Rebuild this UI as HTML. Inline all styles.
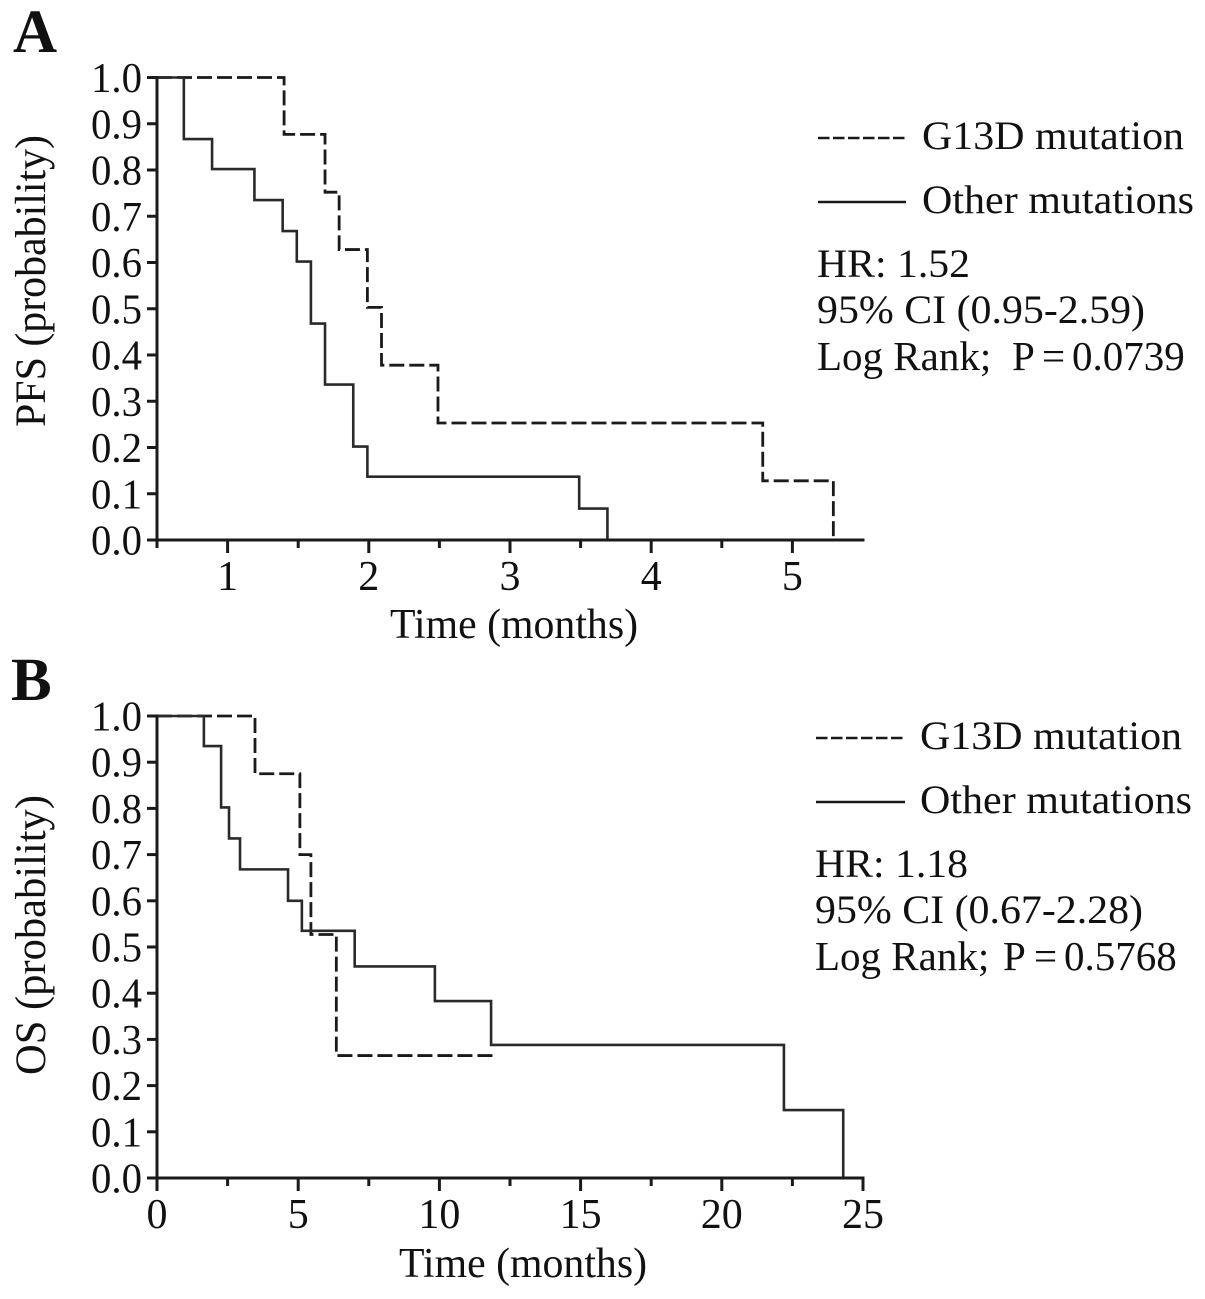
<!DOCTYPE html>
<html lang="en">
<head>
<meta charset="utf-8">
<title>Kaplan-Meier curves</title>
<style>
html,body{margin:0;padding:0;background:#fff;width:1205px;height:1299px;overflow:hidden}
svg{display:block}
text{font-family:"Liberation Serif",serif;fill:#111}
</style>
</head>
<body>
<svg id="fig" xmlns="http://www.w3.org/2000/svg" width="1205" height="1299" viewBox="0 0 1205 1299">
  <rect width="1205" height="1299" fill="#fff"/>
  <text x="13" y="52" font-size="61" font-weight="bold">A</text>
  <text x="11" y="700" font-size="61" font-weight="bold">B</text>

  <line x1="818" y1="138" x2="906" y2="138" stroke="#1a1a1a" stroke-width="2.5" stroke-dasharray="11.5 3.5"/>
  <text x="922" y="149" font-size="40" textLength="262" lengthAdjust="spacingAndGlyphs">G13D mutation</text>
  <line x1="818" y1="202" x2="906" y2="202" stroke="#1a1a1a" stroke-width="2.5"/>
  <text x="922" y="213" font-size="40" textLength="272" lengthAdjust="spacingAndGlyphs">Other mutations</text>
  <text x="817" y="277" font-size="40" textLength="153" lengthAdjust="spacingAndGlyphs">HR: 1.52</text>
  <text x="817" y="323" font-size="40" textLength="328" lengthAdjust="spacingAndGlyphs">95% CI (0.95-2.59)</text>
  <text y="370" font-size="41"><tspan x="817">Log Rank;</tspan> <tspan x="1012">P</tspan> <tspan x="1042">=</tspan><tspan x="1072">0.0739</tspan></text>

  <line x1="816" y1="738" x2="905" y2="738" stroke="#1a1a1a" stroke-width="2.5" stroke-dasharray="11.5 3.5"/>
  <text x="920" y="749" font-size="40" textLength="262" lengthAdjust="spacingAndGlyphs">G13D mutation</text>
  <line x1="816" y1="802" x2="905" y2="802" stroke="#1a1a1a" stroke-width="2.5"/>
  <text x="920" y="813" font-size="40" textLength="272" lengthAdjust="spacingAndGlyphs">Other mutations</text>
  <text x="815" y="877" font-size="40" textLength="153" lengthAdjust="spacingAndGlyphs">HR: 1.18</text>
  <text x="815" y="923" font-size="40" textLength="328" lengthAdjust="spacingAndGlyphs">95% CI (0.67-2.28)</text>
  <text y="970" font-size="41"><tspan x="815">Log Rank;</tspan> <tspan x="1003">P</tspan> <tspan x="1034">=</tspan><tspan x="1064">0.5768</tspan></text>

  <text x="390" y="638" font-size="42" textLength="248" lengthAdjust="spacingAndGlyphs">Time (months)</text>
  <text x="399" y="1277" font-size="42" textLength="248" lengthAdjust="spacingAndGlyphs">Time (months)</text>
  <text transform="translate(45,427) rotate(-90)" font-size="43" textLength="292" lengthAdjust="spacingAndGlyphs">PFS (probability)</text>
  <text transform="translate(45,1075) rotate(-90)" font-size="43" textLength="280" lengthAdjust="spacingAndGlyphs">OS (probability)</text>
</svg>
<script>
// Shared y-axis tick labels
const yTickLabels = ['0.0','0.1','0.2','0.3','0.4','0.5','0.6','0.7','0.8','0.9','1.0'];

// Panel A: progression-free survival
const aXMajorTicks = [1, 2, 3, 4, 5];
const aXMinorTicks = [0.5, 1.5, 2.5, 3.5, 4.5];
const aG13dTimes = [1.4, 1.69, 1.79, 1.99, 2.09, 2.49, 4.79, 5.29];
const aG13dProb = [0.877, 0.752, 0.628, 0.503, 0.378, 0.253, 0.128, 0];
const aOtherTimes = [0.69, 0.89, 1.19, 1.39, 1.49, 1.59, 1.69, 1.89, 1.99, 3.49, 3.69];
const aOtherProb = [0.867, 0.802, 0.735, 0.668, 0.602, 0.468, 0.336, 0.202, 0.137, 0.068, 0];

// Panel B: overall survival
const bXMajorTicks = [0, 5, 10, 15, 20, 25];
const bXMinorTicks = [2.5, 7.5, 12.5, 17.5, 22.5];
const bG13dTimes = [3.47, 5.06, 5.45, 6.35];
const bG13dProb = [0.875, 0.70, 0.527, 0.265];
const bG13dEnd = 12.03;
const bOtherTimes = [1.66, 2.27, 2.55, 2.94, 4.64, 5.13, 7.0, 9.84, 11.83, 22.2, 24.3];
const bOtherProb = [0.935, 0.802, 0.735, 0.668, 0.60, 0.535, 0.458, 0.383, 0.288, 0.147, 0];

const NS = 'http://www.w3.org/2000/svg';
const svg = document.getElementById('fig');
const INK = '#1a1a1a';

function add(tag, attrs) {
  const el = document.createElementNS(NS, tag);
  for (const k in attrs) el.setAttribute(k, attrs[k]);
  svg.appendChild(el);
  return el;
}

function stepPath(times, probs, xScale, yScale, endTime) {
  let d = 'M' + xScale(xScale.domainStart) + ' ' + yScale(1);
  let prev = 1;
  times.forEach(function (t, i) {
    d += 'L' + xScale(t) + ' ' + yScale(prev);
    d += 'L' + xScale(t) + ' ' + yScale(probs[i]);
    prev = probs[i];
  });
  if (endTime !== undefined) d += 'L' + xScale(endTime) + ' ' + yScale(prev);
  return d;
}

function drawPanel(p) {
  const xScale = function (v) { return p.x0 + (v - p.d0) / (p.d1 - p.d0) * (p.x1 - p.x0); };
  xScale.domainStart = p.d0;
  const yScale = function (v) { return p.y0 + (1 - v) * (p.y1 - p.y0); };
  const lbl = p.id;

  // y ticks and labels
  yTickLabels.forEach(function (s) {
    const v = parseFloat(s);
    const tick = add('line', {x1: p.x0 - 10, x2: p.x0, y1: yScale(v), y2: yScale(v), stroke: INK, 'stroke-width': 3});
    
    
    const t = add('text', {x: p.x0 - 66, y: yScale(v) + 14.5, 'font-size': 42, textLength: 51, lengthAdjust: 'spacingAndGlyphs'});
    t.textContent = s;
    
    
  });

  // x ticks and labels
  p.major.forEach(function (v) {
    const tick = add('line', {x1: xScale(v), x2: xScale(v), y1: p.y1, y2: p.y1 + 13, stroke: INK, 'stroke-width': 3});
    
    
    const t = add('text', {x: xScale(v), y: p.labelY, 'font-size': 42, 'text-anchor': 'middle'});
    t.textContent = String(v);
    
    
  });
  p.minor.forEach(function (v) {
    const tick = add('line', {x1: xScale(v), x2: xScale(v), y1: p.y1, y2: p.y1 + 8, stroke: INK, 'stroke-width': 3});
    
    
  });

  // series
  const dashed = add('path', {d: stepPath(p.gT, p.gP, xScale, yScale, p.gEnd), fill: 'none', stroke: INK, 'stroke-width': 2.8, 'stroke-dasharray': '15 5'});
  
  
  const solid = add('path', {d: stepPath(p.oT, p.oP, xScale, yScale), fill: 'none', stroke: '#2a2a2a', 'stroke-width': 2.6});
  
  

  // axes
  const yAxis = add('line', {x1: p.x0, x2: p.x0, y1: p.y0 - 1.5, y2: p.y1 + 1.5, stroke: INK, 'stroke-width': 3});
  
  
  const xAxis = add('line', {x1: p.x0 - 1.5, x2: p.x1 + 1.5, y1: p.y1, y2: p.y1, stroke: INK, 'stroke-width': 3});
  
  
}

drawPanel({id: 'panel-a', x0: 157, x1: 863, y0: 77.5, y1: 540, d0: 0.5, d1: 5.5, labelY: 590,
  major: aXMajorTicks, minor: aXMinorTicks, gT: aG13dTimes, gP: aG13dProb, oT: aOtherTimes, oP: aOtherProb});
drawPanel({id: 'panel-b', x0: 157, x1: 863, y0: 716, y1: 1178, d0: 0, d1: 25, labelY: 1228,
  major: bXMajorTicks, minor: bXMinorTicks, gT: bG13dTimes, gP: bG13dProb, gEnd: bG13dEnd, oT: bOtherTimes, oP: bOtherProb});
</script>
</body>
</html>
